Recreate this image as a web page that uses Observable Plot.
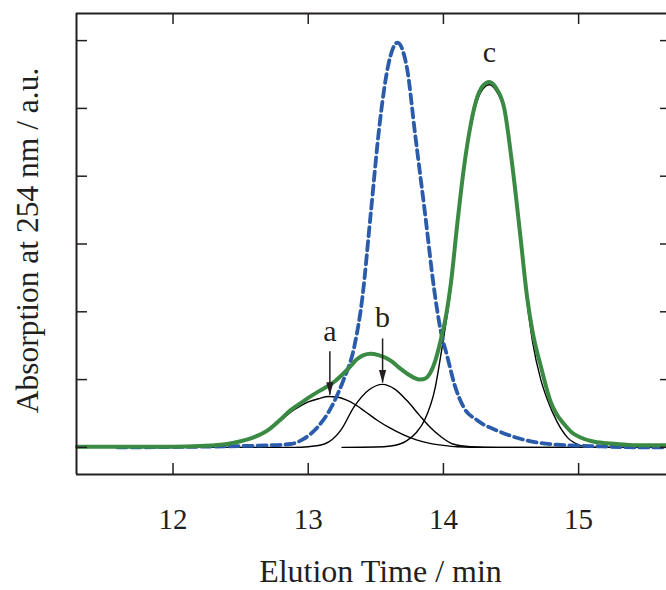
<!DOCTYPE html>
<html>
<head>
<meta charset="utf-8">
<script src="https://cdn.jsdelivr.net/npm/d3@7"></script>
<script src="https://cdn.jsdelivr.net/npm/@observablehq/plot@0.6"></script>
<style>
  html, body { margin: 0; padding: 0; background: #fff; }
  #chart svg { display: block; }
</style>
</head>
<body>
<div id="chart"></div>
<script>
// ---- data (elution time in min, absorption in a.u.) ----
const xTicks = [12, 13, 14, 15];
const yTicks = [0, 1, 2, 3, 4, 5, 6];

const green = [[11.29,0.01],[11.6,0.01],[12.0,0.01],[12.2,0.02],[12.4,0.05],[12.5,0.09],[12.6,0.15],[12.7,0.25],[12.8,0.42],[12.87,0.55],[12.95,0.66],[13.0,0.73],[13.08,0.83],[13.15,0.91],[13.2,0.98],[13.26,1.09],[13.31,1.19],[13.36,1.30],[13.41,1.36],[13.46,1.38],[13.52,1.36],[13.61,1.28],[13.67,1.18],[13.73,1.09],[13.78,1.03],[13.83,1.00],[13.87,1.02],[13.9,1.09],[13.94,1.28],[13.98,1.58],[14.02,1.95],[14.06,2.5],[14.1,3.25],[14.15,4.1],[14.19,4.63],[14.24,5.1],[14.29,5.33],[14.34,5.39],[14.39,5.30],[14.45,5.0],[14.51,4.15],[14.57,3.1],[14.62,2.2],[14.66,1.7],[14.72,1.2],[14.79,0.69],[14.84,0.48],[14.89,0.35],[14.95,0.22],[15.01,0.15],[15.1,0.09],[15.21,0.06],[15.35,0.04],[15.46,0.03],[15.65,0.03]];

const blue = [[11.59,0],[12.0,0.005],[12.5,0.02],[12.7,0.03],[12.87,0.05],[12.97,0.13],[13.07,0.30],[13.17,0.59],[13.26,0.99],[13.34,1.48],[13.4,2.2],[13.46,3.4],[13.53,4.8],[13.59,5.62],[13.66,5.97],[13.73,5.6],[13.79,4.63],[13.87,3.35],[13.93,2.35],[13.98,1.72],[14.03,1.33],[14.08,0.94],[14.15,0.59],[14.25,0.40],[14.42,0.23],[14.62,0.10],[14.84,0.04],[15.09,0.02],[15.46,0.0],[15.65,0.0]];

const compA = [[11.29,0],[12.0,0.005],[12.2,0.015],[12.4,0.045],[12.5,0.085],[12.6,0.14],[12.7,0.24],[12.8,0.40],[12.87,0.52],[12.95,0.62],[13.0,0.67],[13.08,0.72],[13.15,0.75],[13.22,0.74],[13.28,0.70],[13.34,0.64],[13.42,0.53],[13.51,0.40],[13.6,0.29],[13.71,0.18],[13.8,0.11],[13.9,0.06],[14.0,0.03],[14.1,0.01],[14.3,0],[15.65,0]];

const compB = [[11.29,0],[12.9,0],[13.0,0.01],[13.12,0.05],[13.24,0.25],[13.34,0.60],[13.45,0.85],[13.55,0.93],[13.64,0.86],[13.73,0.69],[13.82,0.48],[13.9,0.30],[13.98,0.16],[14.07,0.05],[14.2,0.01],[14.4,0],[15.65,0]];

const compC = [[13.25,0],[13.5,0.005],[13.61,0.02],[13.73,0.10],[13.8,0.22],[13.86,0.40],[13.94,0.89],[13.98,1.35],[14.02,1.85],[14.06,2.42],[14.1,3.2],[14.15,4.05],[14.19,4.58],[14.24,5.05],[14.29,5.28],[14.34,5.35],[14.39,5.26],[14.45,4.96],[14.51,4.1],[14.57,3.05],[14.62,2.12],[14.66,1.55],[14.72,1.0],[14.77,0.7],[14.84,0.38],[14.92,0.14],[15.01,0.03],[15.08,0],[15.65,0]];

const peakLabels = ["a", "b", "c"];
const labelT = [13.16, 13.55, 14.34];
const labelV = [1.71, 1.92, 5.83];
const arrowT = [13.16, 13.55];
const arrowTop = [1.41, 1.60];
const arrowTip = [0.77, 0.95];

const xLabel = "Elution Time / min";
const yLabel = "Absorption at 254 nm / a.u.";

// ---- layout ----
const W = 666, H = 590;
const mT = 13, mB = 116, mL = 76, mR = 0;
const plotW = W - mL - mR, plotH = H - mT - mB;
const xDomain = [11.286, 15.65];
const yDomain = [-0.4, 6.4];
const font = "'Liberation Serif', 'Times New Roman', serif";
const ink = "#231f20";

const pts = arr => arr.map(([t, v]) => ({t, v}));
const labels = peakLabels.map((s, i) => ({s, t: labelT[i], v: labelV[i]}));
const arrows = arrowT.map((t, i) => ({t, top: arrowTop[i], tip: arrowTip[i]}));

const arrowHead = {
  draw(context) {
    context.moveTo(0, 0);
    context.lineTo(-3.6, -13);
    context.lineTo(3.6, -13);
    context.closePath();
  }
};

const chart = Plot.plot({
  width: W, height: H,
  marginTop: mT, marginBottom: mB, marginLeft: mL, marginRight: mR,
  x: {domain: xDomain, axis: null},
  y: {domain: yDomain, axis: null},
  style: {fontFamily: font, background: "#fff"},
  marks: [
    // component fits (thin black)
    Plot.line(pts(compA), {x: "t", y: "v", stroke: "#000", strokeWidth: 1.4, curve: "monotone-x"}),
    Plot.line(pts(compB), {x: "t", y: "v", stroke: "#000", strokeWidth: 1.4, curve: "monotone-x"}),
    Plot.line(pts(compC), {x: "t", y: "v", stroke: "#000", strokeWidth: 1.4, curve: "monotone-x"}),
    // blue dashed trace
    Plot.line(pts(blue), {x: "t", y: "v", stroke: "#2b5bab", strokeWidth: 3.8, strokeDasharray: "9,5", curve: "monotone-x"}),
    // green trace
    Plot.line(pts(green), {x: "t", y: "v", stroke: "#3a8a44", strokeWidth: 4, curve: "monotone-x"}),
    // arrows
    Plot.ruleX(arrows, {x: "t", y1: "top", y2: "tip", stroke: ink, strokeWidth: 1.5}),
    Plot.dot(arrows, {x: "t", y: "tip", symbol: arrowHead, fill: ink, stroke: "none"}),
    // peak labels
    Plot.text(labels, {x: "t", y: "v", text: "s", fontSize: 30, fill: ink, fontFamily: font, lineAnchor: "middle"}),
    // frame (left, top, bottom)
    Plot.ruleX([xDomain[0]], {stroke: ink, strokeWidth: 2}),
    Plot.ruleY([yDomain[0]], {stroke: ink, strokeWidth: 2}),
    Plot.ruleY([yDomain[1]], {stroke: ink, strokeWidth: 2}),
    // inward ticks
    Plot.ruleX(xTicks, {x: d => d, insetTop: plotH - 11, stroke: ink, strokeWidth: 1.5}),
    Plot.ruleX(xTicks, {x: d => d, insetBottom: plotH - 11, stroke: ink, strokeWidth: 1.5}),
    Plot.ruleY(yTicks, {y: d => d, insetRight: plotW - 11, stroke: ink, strokeWidth: 1.5}),
    Plot.ruleY(yTicks, {y: d => d, insetLeft: plotW - 6, stroke: ink, strokeWidth: 1.5}),
    // tick labels
    Plot.text(xTicks, {x: d => d, text: d => String(d), frameAnchor: "bottom", dy: 45.5, fontSize: 29, fill: ink, fontFamily: font, lineAnchor: "middle", textAnchor: "middle"}),
    // axis titles
    Plot.text([xLabel], {frameAnchor: "bottom", dy: 97, dx: 9, fontSize: 32, fill: ink, fontFamily: font, lineAnchor: "middle", textAnchor: "middle"}),
    Plot.text([yLabel], {frameAnchor: "left", dx: -49, dy: -3.5, rotate: -90, fontSize: 31.5, fill: ink, fontFamily: font, lineAnchor: "middle", textAnchor: "middle"})
  ]
});

document.getElementById("chart").appendChild(chart);
</script>
</body>
</html>
